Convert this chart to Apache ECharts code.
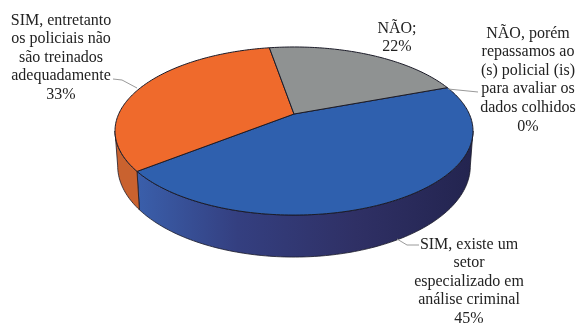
<!DOCTYPE html>
<html><head><meta charset="utf-8">
<style>html,body{margin:0;padding:0;background:#fff}#c{width:577px;height:324px}</style>
<script src="https://cdn.jsdelivr.net/npm/echarts@6/dist/echarts.min.js"></script>
</head><body><div id="c"></div>
<script>
const categories = [
  "SIM, existe um\nsetor\nespecializado em\nanálise criminal",
  "SIM, entretanto\nos policiais não\nsão treinados\nadequadamente",
  "NÃO;",
  "NÃO, porém\nrepassamos ao\n(s) policial (is)\npara avaliar os\ndados colhidos"
];
const values = [45, 33, 22, 0];
const topColors = ["#2f60ae", "#ef6a2c", "#8f9292", "#8f9292"];
const sideColors = [null, "#c9622f", null, null];

// Layout of the projected disc (perspective view of a tilted circle)
const cx = 294, cy = 114, A = 175.3, B = 80.6, K = 0.2024, DEPTH = 33.5, SHRINK = 0.985, START = -20.5;
const labelPos = [[469, 235], [61, 11], [397, 19], [528, 24]];
const leaders = [
  [[397, 239], [407, 245], [419, 245]],
  [[113, 79], [122, 80], [137, 88]],
  null,
  [[448, 89], [478, 92]]
];
const OUT = "#1b1b28";
const rad = d => d * Math.PI / 180;
function rim(deg) {
  const u = Math.cos(rad(deg)), v = Math.sin(rad(deg)), w = 1 - K * v;
  return [cx + A * u / w, cy + B * v / w];
}
function low(deg) {
  const p = rim(deg), w = 1 - K * Math.sin(rad(deg));
  return [cx + (p[0] - cx) * SHRINK, p[1] + DEPTH / w];
}
function arc(fn, a, b) {
  const pts = [], n = Math.max(2, Math.ceil(Math.abs(b - a)));
  for (let i = 0; i <= n; i++) pts.push(fn(a + (b - a) * i / n));
  return pts;
}
const total = values.reduce((s, v) => s + v, 0);
const visFrom = Math.asin(K) * 180 / Math.PI, visTo = 180 - visFrom;

function renderItem(params, api) {
  const i = params.dataIndex;
  let before = 0;
  for (let j = 0; j < i; j++) before += values[j];
  const a0 = START + before / total * 360;
  const a1 = a0 + api.value(0) / total * 360;
  const children = [];
  const s0 = Math.max(a0, visFrom), s1 = Math.min(a1, visTo);
  if (s1 > s0) {
    const poly = arc(rim, s0, s1).concat(arc(low, s1, s0));
    const fill = sideColors[i] || new echarts.graphic.LinearGradient(0, 0, 1, 0, [
      { offset: 0, color: "#3a5fab" }, { offset: 0.3, color: "#343f80" },
      { offset: 0.65, color: "#2f3065" }, { offset: 1, color: "#23244f" }
    ]);
    children.push({ type: "polygon", shape: { points: poly }, style: { fill, stroke: OUT, lineWidth: 0.8 } });
  }
  if (a1 > a0) {
    children.push({
      type: "polygon",
      shape: { points: [[cx, cy]].concat(arc(rim, a0, a1)) },
      style: { fill: topColors[i], stroke: OUT, lineWidth: 1 }, z2: 5
    });
  }
  if (leaders[i]) children.push({
    type: "polyline", shape: { points: leaders[i] },
    style: { fill: null, stroke: "#9a9a9a", lineWidth: 1 }, z2: 6
  });
  children.push({
    type: "text", z2: 7,
    style: {
      x: labelPos[i][0], y: labelPos[i][1], align: "center", verticalAlign: "top",
      text: api.value(1) + "\n" + api.value(0) + "%",
      fontFamily: "Liberation Serif", fontSize: 16, lineHeight: 18.6, fill: "#222222"
    }
  });
  return { type: "group", children };
}

const chart = echarts.init(document.getElementById("c"), null, { renderer: "canvas" });
chart.setOption({
  animation: false,
  backgroundColor: "#ffffff",
  series: [{
    type: "custom", coordinateSystem: "none", silent: true,
    renderItem,
    data: values.map((v, i) => [v, categories[i]])
  }]
});
</script></body></html>
